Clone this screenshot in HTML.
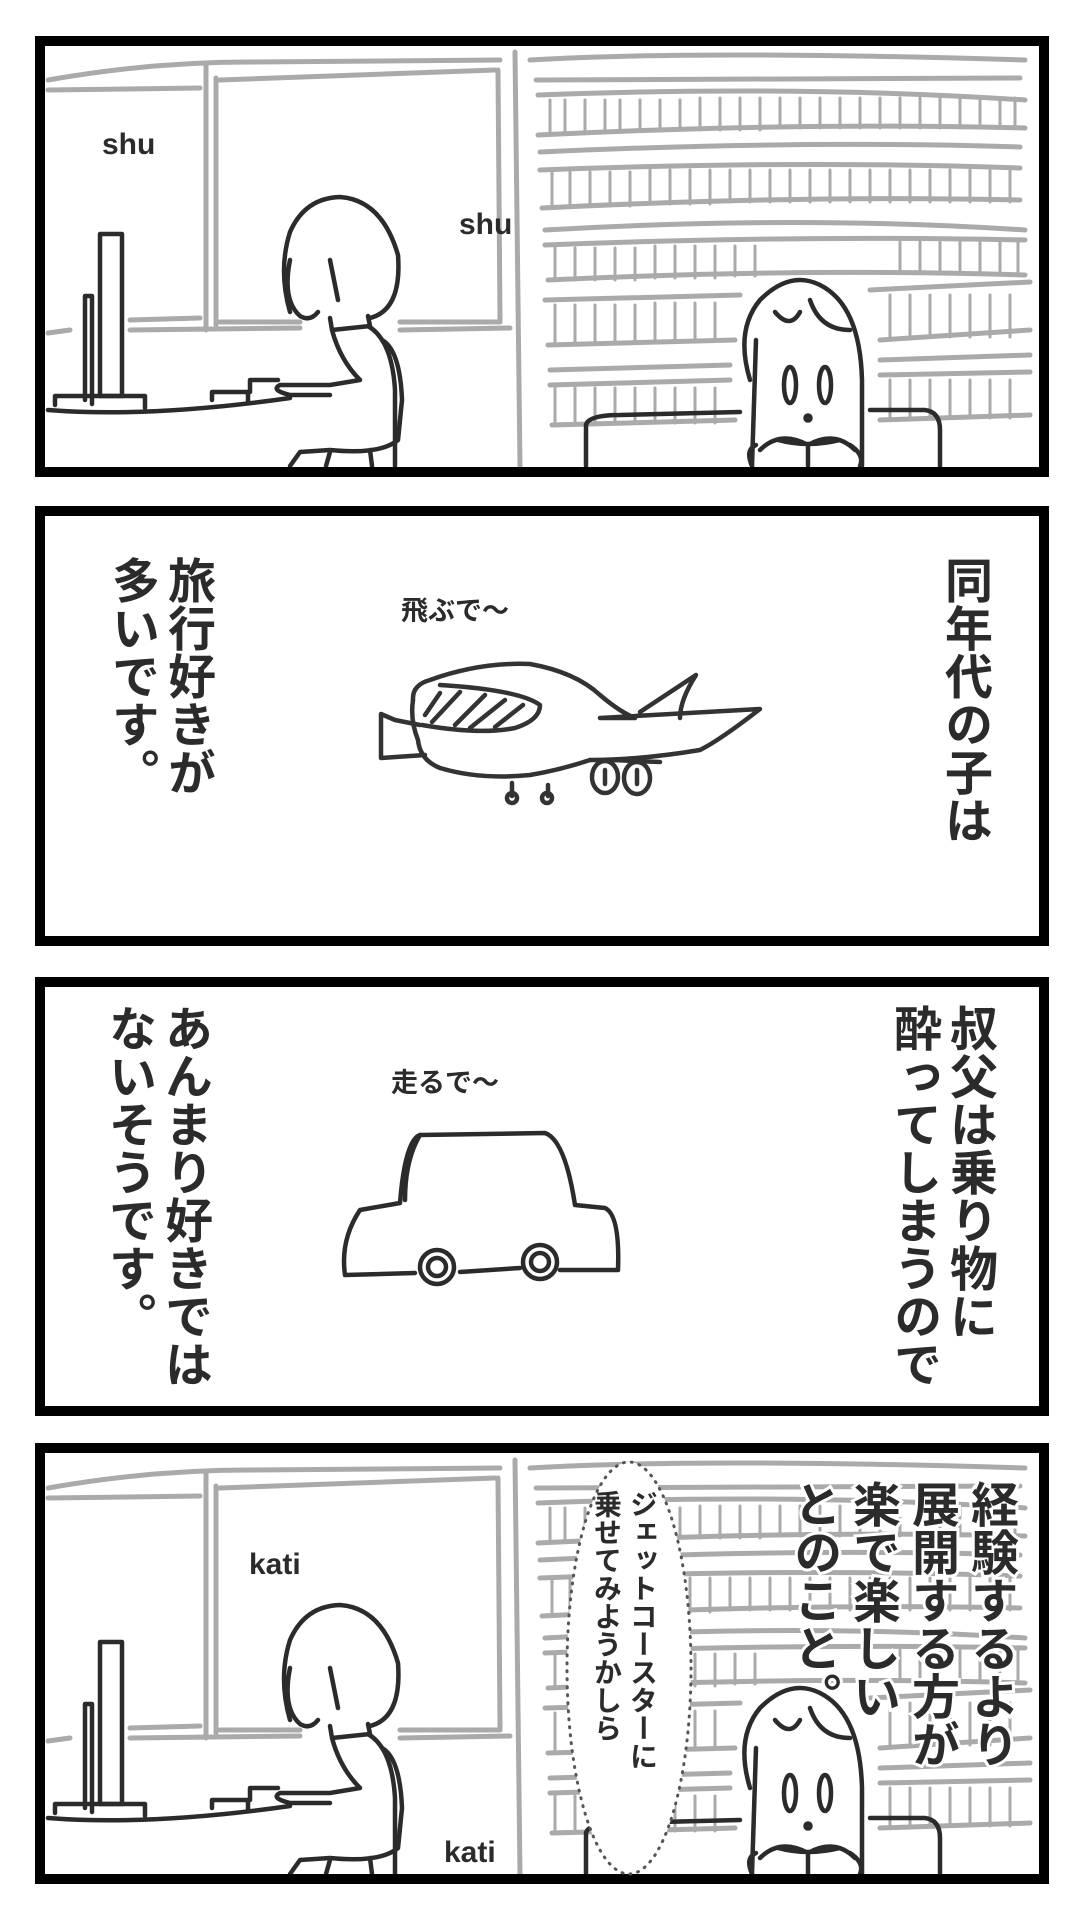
<!DOCTYPE html>
<html><head><meta charset="utf-8"><style>
html,body{margin:0;padding:0;background:#fff}
#c{position:relative;width:1080px;height:1920px;overflow:hidden;background:#fff;font-family:"Liberation Sans","Noto Sans CJK JP",sans-serif;color:#2b2b2b}
.v{position:absolute;writing-mode:vertical-rl;font-weight:bold;line-height:1;white-space:nowrap}
.t{position:absolute;font-weight:bold;line-height:1;white-space:nowrap}
svg{position:absolute;left:0;top:0}
</style></head><body><div id="c">
<svg width="1080" height="1920" viewBox="0 0 1080 1920">
<defs>
<g id="scene" fill="none" stroke-linecap="round" stroke-linejoin="round">
 <g stroke="#aaa" stroke-width="5">
  <path d="M48 80 Q150 62 250 62 L500 60"/>
  <path d="M48 90 L200 88 M220 80 L495 70"/>
  <path d="M206 66 L206 330 M216 78 L216 325 M498 70 L500 320 M515 52 L520 466"/>
  <path d="M130 320 L200 318 M220 322 L300 322 M400 322 L500 322 M48 333 L70 330 M130 330 L300 328 M400 330 L510 328"/>
  <path d="M530 60 Q700 50 1025 60 M536 80 L1020 78"/>
  <path d="M538 95 Q800 85 1025 100 M538 135 Q800 122 1025 128"/>
  <path d="M540 152 Q800 140 1020 147 M540 170 Q800 160 1020 168 M542 208 Q800 195 1020 200"/>
  <path d="M545 230 Q800 215 1025 230 M545 245 Q800 235 1025 240 M548 280 Q800 268 1025 275"/>
  <path d="M545 300 L740 295 M870 290 L1030 282 M548 345 L735 340 M880 340 L1030 330"/>
  <path d="M550 370 L730 365 M880 360 L1030 355 M550 385 L730 380 M880 375 L1030 372"/>
  <path d="M552 425 L735 420 M880 420 L1030 415"/>
 </g>
 <g stroke="#aaa" stroke-width="3">
  <path d="M550 100v32 M565 100v32 M585 100v32 M605 100v32 M620 100v30 M640 100v30 M660 100v30 M680 100v30 M700 98v32 M720 98v32 M740 98v32 M760 98v32 M780 98v30 M800 98v30 M820 98v30 M840 98v30 M860 98v30 M880 98v30 M900 98v30 M920 98v30 M940 98v30 M960 98v30 M980 98v30 M1000 98v30 M1015 98v30"/>
  <path d="M552 172v34 M570 172v34 M590 172v34 M610 172v34 M630 172v34 M650 170v34 M670 170v34 M690 170v34 M710 170v34 M730 170v32 M750 170v32 M770 170v32 M790 170v32 M810 170v32 M830 170v32 M850 170v32 M870 170v32 M890 170v32 M910 170v32 M930 170v32 M950 170v32 M970 170v32 M990 170v32 M1010 170v32"/>
  <path d="M555 248v32 M575 248v32 M595 248v32 M615 248v32 M635 248v32 M655 246v32 M675 246v32 M695 246v32 M715 246v32 M735 246v30 M755 246v30 M900 242v30 M920 242v30 M940 242v30 M960 242v30 M980 242v30 M1000 242v30 M1018 242v30"/>
  <path d="M555 305v38 M575 305v38 M595 305v38 M615 305v38 M635 305v38 M655 303v38 M675 303v38 M695 303v38 M715 303v38 M890 295v42 M910 295v42 M930 295v42 M950 295v42 M970 295v42 M990 295v42 M1010 295v42"/>
  <path d="M555 388v35 M575 388v35 M595 388v35 M615 388v35 M635 388v35 M655 388v35 M675 388v35 M695 388v35 M715 388v35 M890 380v38 M910 380v38 M930 380v38 M950 380v38 M970 380v38 M990 380v38 M1010 380v38"/>
 </g>
 <g stroke="#2b2b2b" stroke-width="4.5">
  <rect x="100" y="234" width="22" height="162"/>
  <path d="M85 296 L92 296 L92 404 M85 296 L85 400"/>
  <path d="M55 405 L55 396 L145 396 L145 408"/>
  <path d="M48 410 Q150 418 290 398"/>
  <path d="M212 400 L212 392 L248 392 L248 402 M250 392 L250 380 L278 380"/>
  <path d="M290 312 Q278 270 290 232 Q305 198 340 197 Q382 200 398 255 Q402 310 370 318 M290 260 Q282 300 300 316 Q310 322 318 312 M330 260 L338 300"/>
  <path d="M330 318 L332 330 L370 326 L368 316 M332 330 Q340 360 360 380 L330 385 L280 385 Q270 390 290 395 L330 395 M368 326 Q392 340 395 390 L395 466"/>
  <path d="M382 340 Q400 350 402 400 L398 440 Q380 455 330 450 L300 452 L290 466 M330 452 L326 466 M370 450 L372 466"/>
  <path d="M750 380 Q735 330 760 300 Q790 270 820 285 Q860 305 862 380 L862 466 M756 340 L752 466 M775 312 Q790 330 800 312 M810 300 Q820 330 850 330"/>
  <ellipse cx="790" cy="385" rx="6" ry="18"/><ellipse cx="825" cy="385" rx="6" ry="18"/>
  <circle cx="808" cy="418" r="2.5"/>
  <path d="M778 440 Q808 448 840 440 M760 450 Q780 430 808 445 Q835 430 855 450 M808 445 L808 466 M752 466 Q745 450 756 445 M850 445 Q865 455 860 466"/>
  <path d="M586 466 L586 425 Q588 415 620 415 L740 412 M870 410 L925 410 Q940 412 940 430 L940 466"/>
 </g>
</g>
</defs>
<use href="#scene"/>
<use href="#scene" transform="translate(0,1408)"/>
<rect x="40" y="41" width="1004" height="431" fill="none" stroke="#000" stroke-width="10"/>
<rect x="40" y="511" width="1004" height="430" fill="none" stroke="#000" stroke-width="10"/>
<rect x="40" y="982" width="1004" height="429" fill="none" stroke="#000" stroke-width="10"/>
<rect x="40" y="1448" width="1004" height="431" fill="none" stroke="#000" stroke-width="10"/>
<!-- airplane -->
<g fill="none" stroke="#333" stroke-width="4.5" stroke-linecap="round" stroke-linejoin="round">
 <path d="M413 700 Q412 685 430 680 Q480 662 530 664 Q575 672 600 695 Q620 712 635 718 L600 718 L760 709 Q720 740 700 750 Q640 760 590 760"/>
 <path d="M590 760 Q560 770 530 775 Q480 780 440 768 Q420 760 418 740 Q410 720 413 700"/>
 <path d="M640 712 L696 675 Q680 700 680 718"/>
 <path d="M420 725 L395 720 L381 714 L381 758 L425 755"/>
 <path d="M422 725 Q480 735 515 728 Q540 720 540 705 Q520 690 440 685"/>
 <path d="M425 715 L440 693 M432 722 L460 692 M455 725 L485 695 M470 728 L505 700 M495 727 L523 705"/>
 <ellipse cx="605" cy="777" rx="13" ry="16"/><ellipse cx="637" cy="778" rx="13" ry="16"/>
 <path d="M605 770 L605 784 M637 770 L637 784 M612 760 L660 762"/>
 <path d="M512 783 L512 796 M548 785 L548 796"/>
 <circle cx="512" cy="798" r="5"/><circle cx="547" cy="798" r="5"/>
</g>
<!-- car -->
<g fill="none" stroke="#2b2b2b" stroke-width="4.5" stroke-linecap="round" stroke-linejoin="round">
 <path d="M400 1203 Q405 1140 420 1135 L545 1133 Q565 1140 575 1205 L605 1208 Q620 1215 618 1270 L560 1270 M520 1268 L460 1272 M415 1273 L345 1275 Q340 1240 360 1210 L400 1203"/>
 <path d="M420 1135 Q405 1160 405 1200"/>
 <circle cx="437" cy="1267" r="17"/><circle cx="540" cy="1262" r="17"/>
 <circle cx="437" cy="1267" r="9"/><circle cx="540" cy="1262" r="9"/>
</g>
<!-- bubble -->
<ellipse cx="629" cy="1668" rx="62" ry="206" fill="#fff" stroke="#555" stroke-width="3" stroke-dasharray="1 7" stroke-linecap="round"/>
</svg>

<div class="t" style="left:102px;top:130px;font-size:30px">shu</div>
<div class="t" style="left:459px;top:210px;font-size:30px">shu</div>

<div class="v" style="left:939px;top:556px;font-size:48px">同年代の子は</div>
<div class="v" style="left:102px;top:556px;font-size:48px;line-height:56px">旅行好きが<br>多いです。</div>
<div class="t" style="left:401px;top:598px;font-size:27px">飛ぶで〜</div>

<div class="v" style="left:884px;top:1004px;font-size:48px;line-height:56px">叔父は乗り物に<br>酔ってしまうので</div>
<div class="v" style="left:99px;top:1004px;font-size:48px;line-height:56px">あんまり好きでは<br>ないそうです。</div>
<div class="t" style="left:391px;top:1070px;font-size:27px">走るで〜</div>

<div class="t" style="left:249px;top:1550px;font-size:30px">kati</div>
<div class="t" style="left:444px;top:1838px;font-size:30px">kati</div>
<div class="v" style="left:588px;top:1490px;font-size:28px;line-height:36px">ジェットコースターに<br>乗せてみようかしら</div>
<div class="v" style="left:783px;top:1480px;font-size:48px;line-height:59px;-webkit-text-stroke:6px #fff;paint-order:stroke fill">経験するより<br>展開する方が<br>楽で楽しい<br>とのこと。</div>
</div></body></html>
